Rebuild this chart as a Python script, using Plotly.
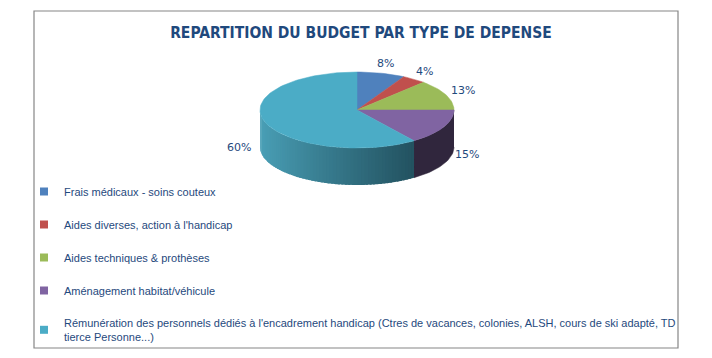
import math
import plotly.graph_objects as go

# ---- data ----
categories = [
    "Frais médicaux - soins couteux",
    "Aides diverses, action à l'handicap",
    "Aides techniques & prothèses",
    "Aménagement habitat/véhicule",
    "Rémunération des personnels dédiés à l'encadrement handicap (Ctres de vacances, colonies, ALSH, cours de ski adapté, TD<br>tierce Personne...)",
]
values = [8, 4, 13, 15, 60]
value_labels = ["8%", "4%", "13%", "15%", "60%"]
title_text = "REPARTITION DU BUDGET PAR TYPE DE DEPENSE"

# ---- style ----
colors = ["#4F81BD", "#C0504D", "#9BBB59", "#8064A2", "#4BACC6"]
text_color = "#1F497D"
TITLE_FONT = "DejaVu Sans Condensed, Liberation Sans, sans-serif"
FONT = "Liberation Sans, sans-serif"
W, H = 712, 358
cx, cy, rx, ry, depth = 357, 110, 97, 38, 37

def pt(theta_deg, dy=0.0, sx=rx, sy=ry):
    t = math.radians(theta_deg)
    return cx + sx * math.sin(t), cy - sy * math.cos(t) + dy

def side_color(x):
    f = (x - (cx - rx)) / (2 * rx)
    f = min(max(f, 0), 1) ** 0.9
    c0 = (0x4A, 0xA0, 0xB7)
    c1 = (0x1A, 0x40, 0x4C)
    c = [int(a + (b - a) * f) for a, b in zip(c0, c1)]
    return "rgb(%d,%d,%d)" % tuple(c)

def darken(hexc, k):
    r, g, b = int(hexc[1:3], 16), int(hexc[3:5], 16), int(hexc[5:7], 16)
    return "rgb(%d,%d,%d)" % (int(r * k), int(g * k), int(b * k))

fig = go.Figure()

total = sum(values)
angles = []
acc = 0
for v in values:
    a0 = acc / total * 360
    acc += v
    a1 = acc / total * 360
    angles.append((a0, a1))

# side walls (front half: 90..270 deg)
for i, (a0, a1) in enumerate(angles):
    s0, s1 = max(a0, 90), min(a1, 270)
    if s1 <= s0:
        continue
    if i == len(values) - 1:
        n = 60
        step = (s1 - s0) / n
        for k in range(n):
            b0 = s0 + k * step
            b1 = min(s1, b0 + step * 1.6)
            xs, ys = [], []
            m = 3
            for j in range(m + 1):
                x, y = pt(b0 + (b1 - b0) * j / m)
                xs.append(x); ys.append(y)
            for j in range(m, -1, -1):
                x, y = pt(b0 + (b1 - b0) * j / m, depth)
                xs.append(x); ys.append(y)
            col = side_color(pt((b0 + b1) / 2)[0])
            fig.add_trace(go.Scatter(x=xs, y=ys, fill="toself", mode="lines",
                                     line=dict(width=0), fillcolor=col,
                                     hoverinfo="skip", showlegend=False))
    else:
        xs, ys = [], []
        m = 30
        for j in range(m + 1):
            x, y = pt(s0 + (s1 - s0) * j / m)
            xs.append(x); ys.append(y)
        for j in range(m, -1, -1):
            x, y = pt(s0 + (s1 - s0) * j / m, depth)
            xs.append(x); ys.append(y)
        col = darken(colors[i], 0.38)
        fig.add_trace(go.Scatter(x=xs, y=ys, fill="toself", mode="lines",
                                 line=dict(width=0.5, color=col), fillcolor=col,
                                 hoverinfo="skip", showlegend=False))

# top faces
for i, (a0, a1) in enumerate(angles):
    xs, ys = [cx], [cy]
    m = max(4, int((a1 - a0) / 2))
    for j in range(m + 1):
        x, y = pt(a0 + (a1 - a0) * j / m)
        xs.append(x); ys.append(y)
    xs.append(cx); ys.append(cy)
    fig.add_trace(go.Scatter(x=xs, y=ys, fill="toself", mode="lines",
                             line=dict(width=0.5, color=colors[i]), fillcolor=colors[i],
                             hoverinfo="text", text=categories[i], showlegend=False))

# data labels
for i, (a0, a1) in enumerate(angles):
    mid = (a0 + a1) / 2
    front = math.cos(math.radians(mid)) < 0
    if front:
        x, y = pt(mid, depth * 0.62, sx=124, sy=48)
    else:
        x, y = pt(mid, 0, sx=115, sy=48)
    fig.add_annotation(x=x, y=y, text=value_labels[i], showarrow=False,
                       font=dict(family="DejaVu Sans", size=11, color=text_color),
                       xref="x", yref="y")

# legend entries
for i, name in enumerate(categories):
    fig.add_trace(go.Scatter(x=[None], y=[None], mode="markers", name=name,
                             marker=dict(symbol="square", size=8, color=colors[i]),
                             legendgroup=str(i)))

fig.add_shape(type="rect", xref="x", yref="y", x0=34, y0=11, x1=678, y1=348,
              line=dict(color="#868686", width=1.2), fillcolor="rgba(0,0,0,0)")

fig.update_layout(
    width=W, height=H,
    margin=dict(l=0, r=0, t=0, b=0),
    paper_bgcolor="white", plot_bgcolor="white",
    xaxis=dict(range=[0, W], visible=False, fixedrange=True),
    yaxis=dict(range=[H, 0], visible=False, fixedrange=True),
    title=dict(text="<b>" + title_text + "</b>", x=361 / W, xanchor="center",
               y=1 - 33 / H, yanchor="middle",
               font=dict(family=TITLE_FONT, size=15.5, color=text_color)),
    legend=dict(x=24 / W, y=1 - 177 / H, xanchor="left", yanchor="top",
                font=dict(family=FONT, size=11, color=text_color),
                tracegroupgap=14, bgcolor="rgba(0,0,0,0)", itemclick=False),
    showlegend=True,
)

fig.write_html("out.html", config={"displayModeBar": False},
               post_script="document.body.style.margin='0';")
